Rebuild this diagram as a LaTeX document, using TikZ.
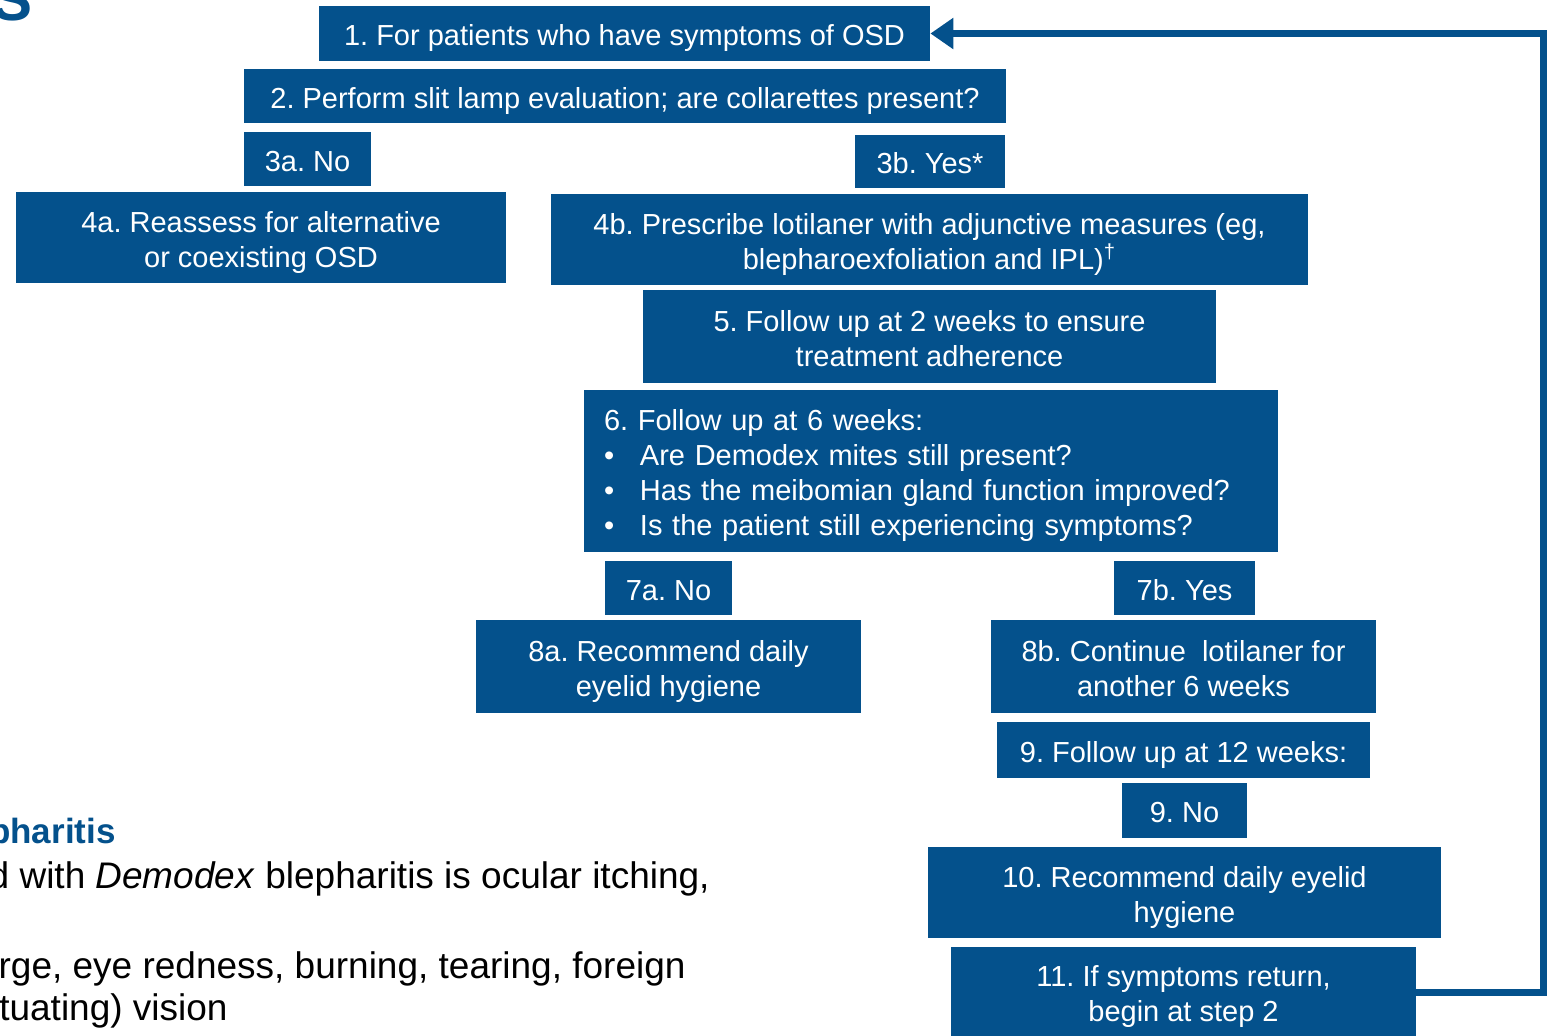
\documentclass[tikz,border=0pt]{standalone}
\usepackage{fontspec}
\setmainfont{Liberation Sans}
\frenchspacing
\usetikzlibrary{arrows.meta}
\definecolor{boxblue}{HTML}{04518C}
\begin{document}
\begin{tikzpicture}[x=0.5pt,y=-0.5pt,
    stepbox/.style={fill=boxblue,text=white,inner sep=0pt,align=center,
      text height=12pt,text depth=0pt,
      font=\fontsize{14.5}{17.5}\selectfont},
    twoline/.style={text height=29.5pt,text depth=0pt},
    boxdim/.style 2 args={minimum width=#1*0.5pt,minimum height=#2*0.5pt},
    looparrow/.style={draw=boxblue,line width=3.5pt,
      -{Triangle[length=11.5pt,width=15pt]}},
    bodytext/.style={inner sep=0pt,anchor=base east,
      font=\fontsize{18.5}{21}\selectfont}]
  \useasboundingbox (0,0) rectangle (1552,1035);
  \clip (0,0) rectangle (1552,1035);
  % cut-off slide text
  \node[inner sep=0pt,anchor=base east,text=boxblue,
    font=\bfseries\fontsize{30}{36}\selectfont] (title) at (33,20) {S};
  \node[bodytext,text=boxblue,font=\bfseries\fontsize{17.5}{20}\selectfont]
    (heading) at (116,843) {pharitis};
  \node[bodytext] (line1) at (710,888) {d with \textit{Demodex} blepharitis is ocular itching,};
  \node[bodytext] (line2) at (686,978) {rge, eye redness, burning, tearing, foreign};
  \node[bodytext] (line3) at (228,1020) {tuating) vision};
  % algorithm
  \node[stepbox,boxdim={611}{55}] (s1) at (624.5,33.5) {1. For patients who have symptoms of OSD};
  \node[stepbox,boxdim={762}{54}] (s2) at (625,96) {2. Perform slit lamp evaluation; are collarettes present?};
  \node[stepbox,boxdim={127}{54}] (s3a) at (307.5,159) {3a. No};
  \node[stepbox,boxdim={150}{53}] (s3b) at (930,161.5) {3b. Yes*};
  \node[stepbox,twoline,boxdim={490}{91}] (s4a) at (261,237.5) {4a. Reassess for alternative\\or coexisting OSD};
  \node[stepbox,twoline,boxdim={757}{91}] (s4b) at (929.5,239.5) {4b. Prescribe lotilaner with adjunctive measures (eg,\\blepharoexfoliation and IPL)\textsuperscript{†}};
  \node[stepbox,twoline,boxdim={573}{93}] (s5) at (929.5,336.5) {5. Follow up at 2 weeks to ensure\\treatment adherence};
  \node[stepbox,boxdim={694}{162},align=left,inner xsep=10pt,text width=327pt,
    text depth=52.5pt] (s6) at (931,471)
    {6. Follow up at 6 weeks:\\
     \makebox[18pt][l]{•}Are Demodex mites still present?\\
     \makebox[18pt][l]{•}Has the meibomian gland function improved?\\
     \makebox[18pt][l]{•}Is the patient still experiencing symptoms?};
  \node[stepbox,boxdim={127}{54}] (s7a) at (668.5,588) {7a. No};
  \node[stepbox,boxdim={141}{54}] (s7b) at (1184.5,588) {7b. Yes};
  \node[stepbox,twoline,boxdim={385}{93}] (s8a) at (668.5,666.5) {8a. Recommend daily\\eyelid hygiene};
  \node[stepbox,twoline,boxdim={385}{93}] (s8b) at (1183.5,666.5) {8b. Continue\ \ lotilaner for\\another 6 weeks};
  \node[stepbox,boxdim={373}{56}] (s9) at (1183.5,750) {9. Follow up at 12 weeks:};
  \node[stepbox,boxdim={125}{55}] (s9no) at (1184.5,810.5) {9. No};
  \node[stepbox,twoline,boxdim={513}{91}] (s10) at (1184.5,892.5) {10. Recommend daily eyelid\\hygiene};
  \node[stepbox,twoline,boxdim={465}{90}] (s11) at (1183.5,992) {11. If symptoms return,\\begin at step 2};
  % back to the start
  \coordinate (turn) at (1543,33.5);
  \draw[looparrow] (s11.east) -| (turn) -- (s1.east);
\end{tikzpicture}
\end{document}
